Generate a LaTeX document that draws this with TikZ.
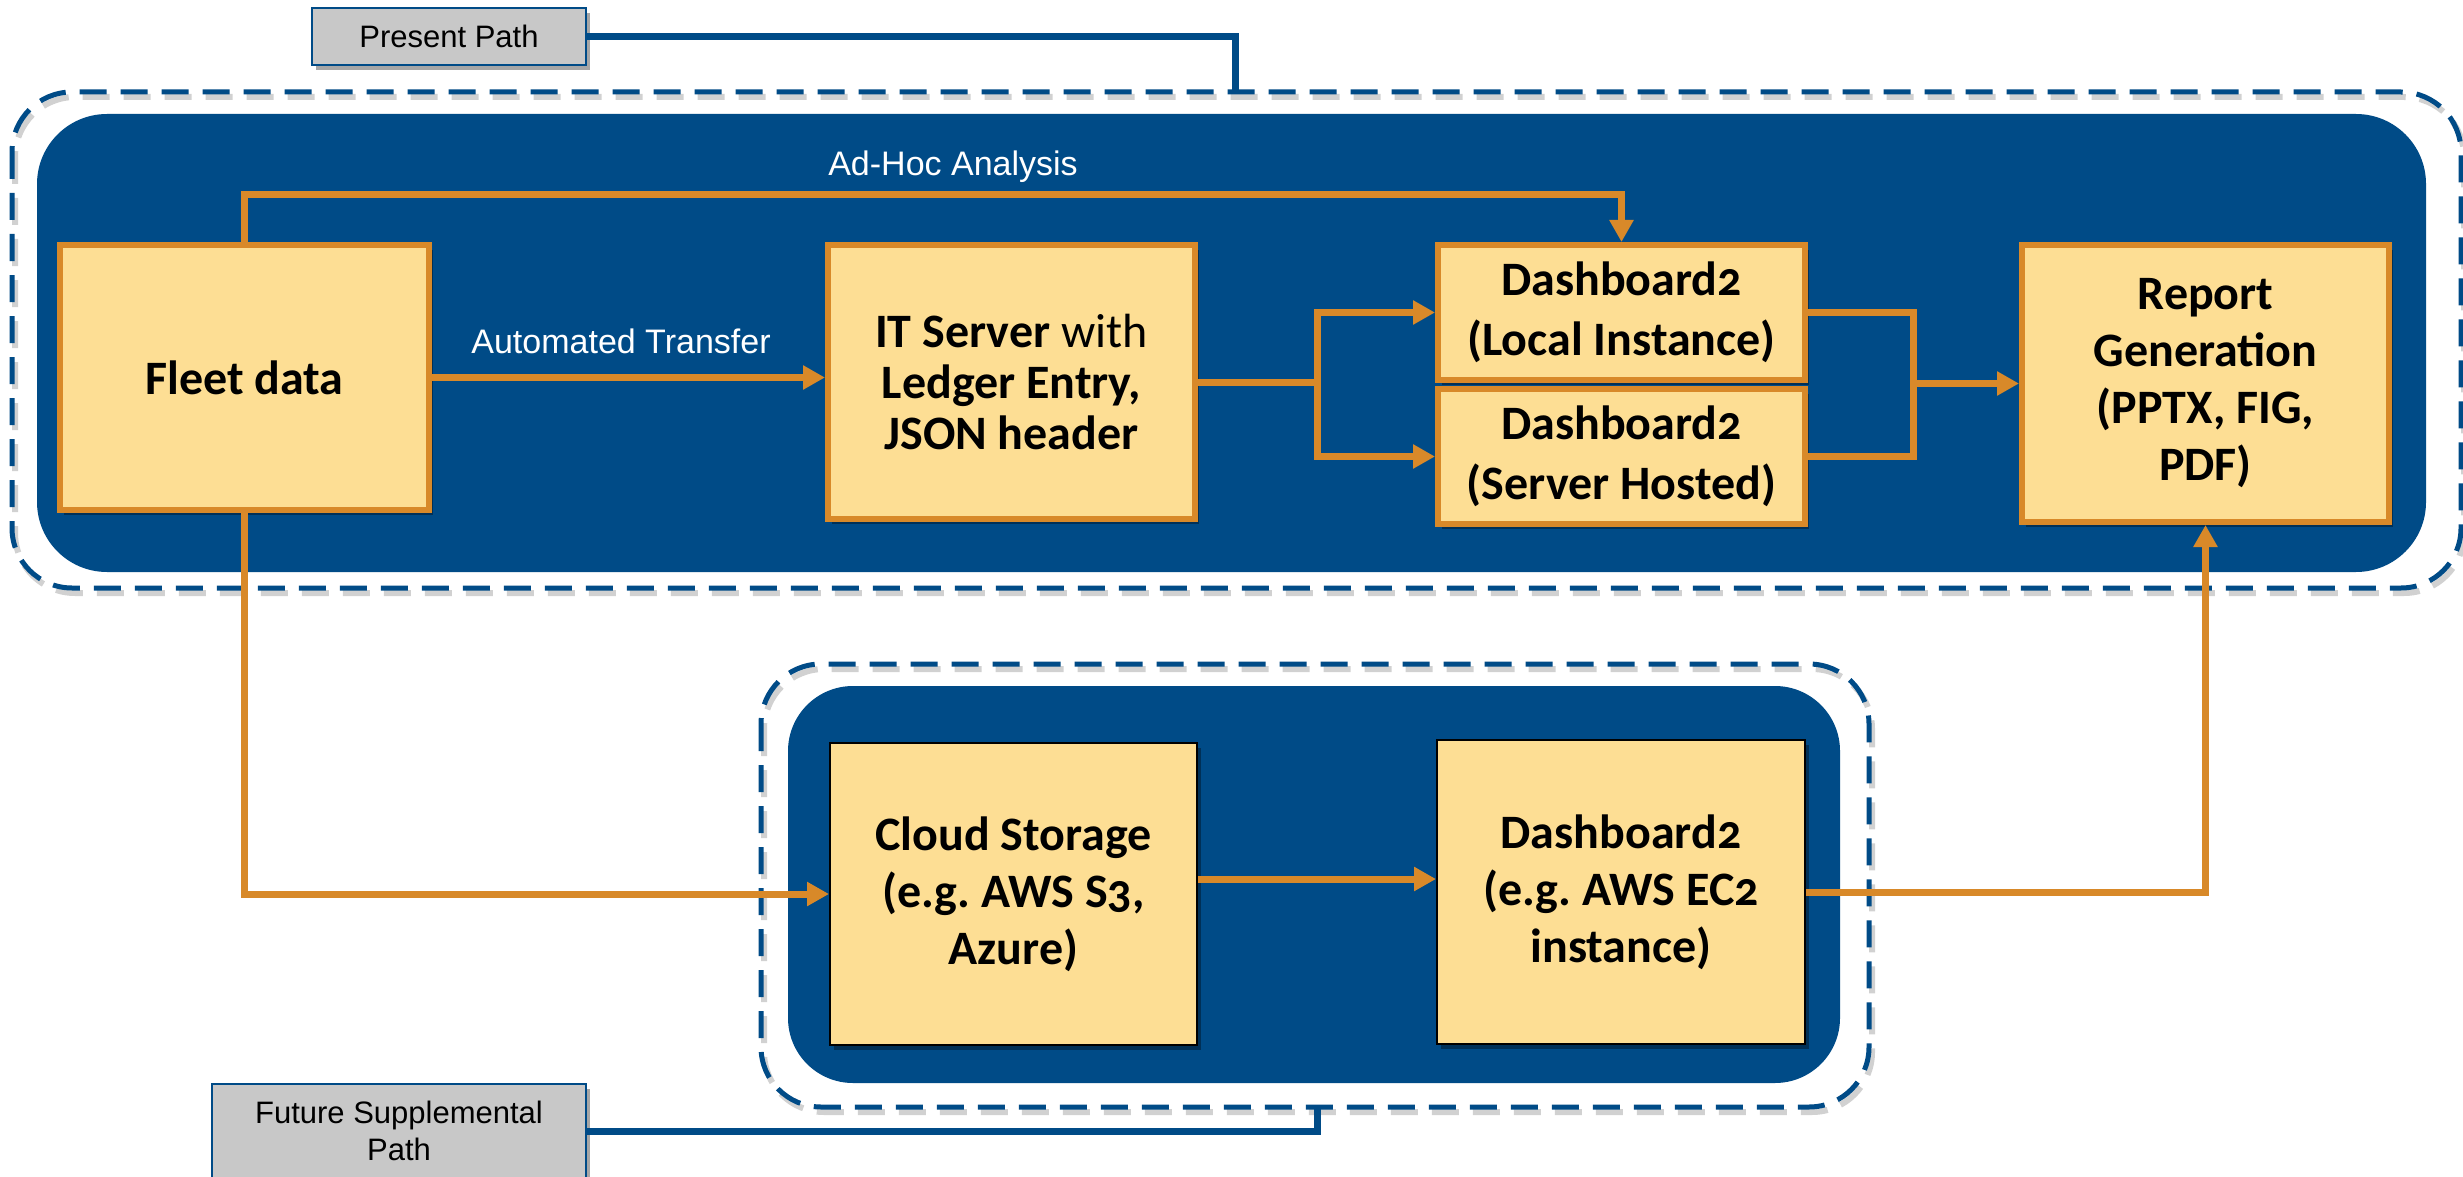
\documentclass[tikz,border=0pt]{standalone}
\usepackage{fontspec}
\setmainfont{Carlito}[Numbers=OldStyle]
\newfontfamily\lab{Liberation Sans}
\usetikzlibrary{arrows.meta,shadows}
\definecolor{navy}{RGB}{0,75,135}
\definecolor{fillY}{RGB}{253,222,148}
\definecolor{org}{RGB}{216,137,41}
\definecolor{grayb}{RGB}{200,200,200}
\frenchspacing
\tikzset{
  shd/.style={drop shadow={shadow xshift=4pt,shadow yshift=-5pt,opacity=.35,fill=black}},
  obox/.style={draw=org, line width=6pt, fill=fillY, align=center, inner sep=0pt,
     font=\bfseries\fontsize{48}{57}\selectfont, shd},
  kbox/.style={draw=black, line width=2pt, fill=fillY, align=center, inner sep=0pt,
     font=\bfseries\fontsize{48}{57}\selectfont, shd},
  gbox/.style={draw=navy, line width=2.5pt, fill=grayb, align=center, inner sep=0pt,
     font=\lab\fontsize{31}{37}\selectfont, shd},
  lbl/.style={text=white, font=\lab\fontsize{34}{40}\selectfont, inner sep=0pt},
  oline/.style={draw=org, line width=7pt},
  oarr/.style={oline, -{Triangle[length=22pt,width=23pt]}},
  bline/.style={draw=navy, line width=7pt},
  dbord/.style={draw=navy, line width=5pt, dash pattern=on 27pt off 14pt},
  dshd/.style={draw=black, opacity=.18, line width=6pt, dash pattern=on 27pt off 14pt},
}
\begin{document}
\begin{tikzpicture}[x=1pt,y=-1pt]
\fill[white] (0,0) rectangle (2463,1177);
\useasboundingbox (0,0) rectangle (2463,1177);

% present path group
\draw[dshd,rounded corners=60pt] (15,97) rectangle (2464,593);
\draw[dbord,rounded corners=60pt] (12,92) rectangle (2461,588);
\fill[navy,rounded corners=70pt] (37,114) rectangle (2426,572);

% future group
\draw[dshd,rounded corners=60pt] (764,669) rectangle (1872,1112);
\draw[dbord,rounded corners=60pt] (761,664) rectangle (1869,1107);
\fill[navy,rounded corners=65pt] (788,686) rectangle (1840,1083);

% boxes
\node[obox, minimum width=369pt, minimum height=265pt] (fleet) at (244.5,377.5) {Fleet data};
\node[obox, minimum width=367pt, minimum height=274pt, font=\bfseries\fontsize{48}{51}\selectfont] (it) at (1011.5,382) {IT Server {\mdseries with}\\Ledger Entry,\\JSON header};
\node[obox, minimum width=367pt, minimum height=135pt, font=\bfseries\fontsize{48}{60}\selectfont] (dl) at (1621.5,312.5) {Dashboard2\\(Local Instance)};
\node[obox, minimum width=367pt, minimum height=135pt, font=\bfseries\fontsize{48}{60}\selectfont] (ds) at (1621.5,456.5) {Dashboard2\\(Server Hosted)};
\node[obox, minimum width=367pt, minimum height=277pt] (rep) at (2205.5,383.5) {Report\\Generation\\(PPTX, FIG,\\PDF)};
\node[kbox, minimum width=367pt, minimum height=302pt] (cloud) at (1013.5,894) {Cloud Storage\\(e.g. AWS S3,\\Azure)};
\node[kbox, minimum width=368pt, minimum height=304pt] (ec2) at (1621,892) {Dashboard2\\(e.g. AWS EC2\\instance)};

\node[gbox, minimum width=274pt, minimum height=57pt] (pp) at (449,36.5) {Present Path};
\node[gbox, minimum width=374pt, minimum height=94pt] (fp) at (399,1131) {Future Supplemental\\Path};

% labels
\node[lbl] (adhocl) at (953,167) {Ad-Hoc Analysis};
\node[lbl] (autol) at (621,341) {Automated Transfer};

% coordinates
\coordinate (adhoc) at (1000,195);
\coordinate (split) at (1317,382);
\coordinate (merge) at (1913,383.5);
\coordinate (pptop) at (1235,92);
\coordinate (fptop) at (1317,1107);

% orange connectors
\draw[oarr] (fleet.north) |- (adhoc) -| (dl.north);
\draw[oarr] (fleet.east) -- (fleet.east -| it.west);
\draw[oline] (it.east) -- (split);
\draw[oarr] (split) |- (dl.west);
\draw[oarr] (split) |- (ds.west);
\draw[oline] (dl.east) -| (merge);
\draw[oline] (ds.east) -| (merge);
\draw[oarr] (merge) -- (merge -| rep.west);
\draw[oarr] (fleet.south) |- (cloud.west);
\draw[oarr] ([yshift=15pt]cloud.east) -- ([yshift=15pt]cloud.east -| ec2.west);
\draw[oarr] (ec2.east) -| (rep.south);

% blue connectors
\draw[bline] (pp.east) -| (pptop);
\draw[bline] (fp.east) -| (fptop);
\end{tikzpicture}
\end{document}
